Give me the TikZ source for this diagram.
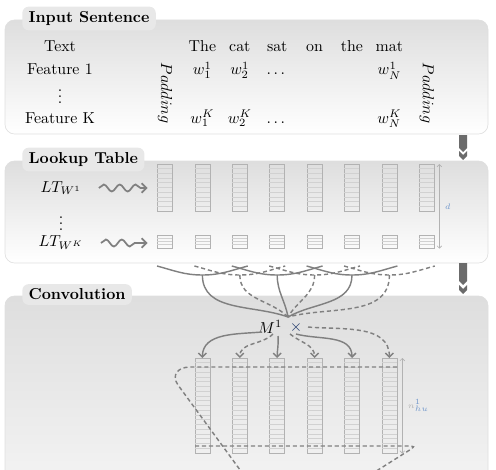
\documentclass[tikz,border=0pt]{standalone}
\usepackage{amsmath}
\usepackage{amssymb}
\usepackage{tikz}
\usetikzlibrary{arrows}
\usetikzlibrary{arrows.meta}
\usetikzlibrary{decorations.pathmorphing}
\usetikzlibrary{positioning}
\definecolor{panelgray}{rgb}{0.87, 0.87, 0.87}
\definecolor{tabgray}{rgb}{0.91, 0.91, 0.91}
\definecolor{flowgray}{rgb}{0.5, 0.5, 0.5}
\definecolor{chevgray}{rgb}{0.42, 0.42, 0.42}
\definecolor{cellgray}{rgb}{0.7, 0.7, 0.7}
\definecolor{lblue}{rgb}{0.45, 0.6, 0.8}
\definecolor{mnavy}{rgb}{0.1, 0.2, 0.4}
\tikzset{panel/.style = {draw=gray!25, rounded corners=6pt, top color=panelgray, bottom color=white},
         tab/.style = {fill=tabgray, rounded corners=4pt, anchor=west, inner xsep=4pt, inner ysep=3pt, font=\bfseries},
         word/.style = {anchor=base, inner sep=1pt},
         cellbox/.style = {draw=cellgray, minimum width=15*0.63pt, inner sep=0pt},
         cellrow/.style = {cellgray!60},
         flow/.style = {flowgray, line width=0.9pt},
         flowd/.style = {flow, dash pattern=on 2.6pt off 1.8pt},
         flowtip/.style = {-{Straight Barb[length=2.5pt,width=5pt]}},
         wavy/.style = {flowgray, line width=1.1pt, -{Straight Barb[length=3pt,width=6pt]},
                        decorate, decoration={snake, amplitude=2.2pt, segment length=10pt, post length=4pt}},
         dimline/.style = {cellgray, line width=0.4pt, {Straight Barb[length=1.5pt,width=3pt]}-{Straight Barb[length=1.5pt,width=3pt]}}}

\begin{document}
\begin{tikzpicture}[x=0.63pt, y=0.63pt]
    \useasboundingbox (0,0) rectangle (496,469);
    \clip (0,0) rectangle (496,469);

    \draw [panel] (5,335) rectangle (488,449);
    \draw [panel] (5,206) rectangle (488,308);
    \draw [panel, bottom color=gray!8] (5,-30) rectangle (488,173);
    \node [tab] (tabinput) at (22,450.5) {Input Sentence};
    \node [tab] (tablookup) at (22,309.5) {Lookup Table};
    \node [tab] (tabconv) at (22,174.5) {Convolution};

    \node [word] (rowtext) at (60,417) {Text};
    \node [word] (feat1) at (60,394) {Feature 1};
    \node [inner sep=1pt] (fdots) at (60,377) {$\vdots$};
    \node [word] (featK) at (60,346) {Feature K};
    \foreach \w [count=\i from 2] in {The, cat, sat, on, the, mat} {
      \node [word] (word\i) at ({165+37.4*(\i-1)}, 417) {\w};
    }
    \node [word] (w11) at (202.4,394) {$w_1^1$};
    \node [word] (w21) at (239.8,394) {$w_2^1$};
    \node [word] (dots1) at (277.2,394) {$\dots$};
    \node [word] (wN1) at (389.4,394) {$w_N^1$};
    \node [word] (w1K) at (202.4,346) {$w_1^K$};
    \node [word] (w2K) at (239.8,346) {$w_2^K$};
    \node [word] (dotsK) at (277.2,346) {$\dots$};
    \node [word] (wNK) at (389.4,346) {$w_N^K$};
    \node [rotate=-90, inner sep=1pt] (padl) at (165,376) {$Padding$};
    \node [rotate=-90, inner sep=1pt] (padr) at (426.8,376) {$Padding$};

    \fill [chevgray] (459,334) -- (467,334) -- (467,321) -- (463,317) -- (459,321) -- cycle;
    \fill [chevgray] (459,318) -- (463,314) -- (467,318) -- (467,313) -- (463,309) -- (459,313) -- cycle;
    \fill [chevgray] (459,206) -- (467,206) -- (467,188) -- (463,184) -- (459,188) -- cycle;
    \fill [chevgray] (459,184) -- (463,180) -- (467,184) -- (467,179) -- (463,175) -- (459,179) -- cycle;

    \foreach \i in {1,...,8} {
      \node [cellbox, minimum height=47*0.63pt, anchor=north] (top\i) at ({165+37.4*(\i-1)}, 305) {};
      \node [cellbox, minimum height=13*0.63pt, anchor=north] (bot\i) at ({165+37.4*(\i-1)}, 234) {};
      \foreach \k in {1,...,9} \draw [cellrow] (top\i.north west) ++(0,-4.7*\k) -- ++(15,0);
      \foreach \k in {1,...,3} \draw [cellrow] (bot\i.north west) ++(0,-3.25*\k) -- ++(15,0);
    }
    \node (ltw1) at (61,281) {$LT_{W^1}$};
    \node (ltdots) at (61,250) {$\vdots$};
    \node (ltwK) at (61,226) {$LT_{W^K}$};
    \draw [wavy] ([xshift=7.5pt]ltw1.east) -- ([xshift=-6pt]ltw1.east -| top1.west);
    \draw [wavy] ([xshift=7.5pt]ltwK.east) -- ([xshift=-6pt]ltwK.east -| bot1.west);
    \draw [dimline] ([xshift=3pt]top8.north east) -- ([xshift=3pt]bot8.south east)
      node [midway, right, font=\tiny, lblue] {$d$};

    \coordinate (mIn) at (288,152);
    \foreach \i in {1,...,6} {
      \coordinate (bl\i) at ({157+37.4*(\i-1)}, 203);
      \coordinate (bm\i) at ({202.4+37.4*(\i-1)}, 194);
      \coordinate (br\i) at ({247.8+37.4*(\i-1)}, 203);
    }
    \foreach \i/\s in {1/flow, 2/flowd, 3/flow, 4/flowd, 5/flow, 6/flowd} {
      \draw [\s] (bl\i) to [out=-15, in=180] (bm\i) to [out=0, in=195] (br\i);
    }
    \draw [flow] (bm1) to [out=-90, in=160] (mIn);
    \draw [flowd] (bm2) to [out=-90, in=135] (mIn);
    \draw [flow] (bm3) to [out=-90, in=100] (mIn);
    \draw [flowd] (bm4) to [out=-90, in=60] (mIn);
    \draw [flow] (bm5) to [out=-90, in=30] (mIn);
    \draw [flowd] (bm6) to [out=-90, in=15] (mIn);

    \node (m1) at (270,142) {$M^1$};
    \node [mnavy] (times) at (296,141) {$\times$};

    \foreach \i in {2,...,7} {
      \node [cellbox, minimum height=95*0.63pt, anchor=north] (out\i) at ({165+37.4*(\i-1)}, 111) {};
      \foreach \k in {1,...,19} \draw [cellrow] (out\i.north west) ++(0,-4.75*\k) -- ++(15,0);
    }
    \coordinate (mo2) at (262,137);
    \coordinate (mo3) at (273,135);
    \coordinate (mo4) at (278,133);
    \coordinate (mo5) at (290,135);
    \coordinate (mo6) at (296,135);
    \coordinate (mo7) at (308,142);
    \draw [flow, flowtip] (mo2) to [out=185, in=90] (out2.north);
    \draw [flowd, flowtip] (mo3) to [out=225, in=90] (out3.north);
    \draw [flow, flowtip] (mo4) to [out=-85, in=90] (out4.north);
    \draw [flowd, flowtip] (mo5) to [out=-40, in=90] (out5.north);
    \draw [flow, flowtip] (mo6) to [out=-15, in=90] (out6.north);
    \draw [flowd, flowtip] (mo7) to [out=-5, in=90] (out7.north);
    \draw [dimline] ([xshift=3.2pt]out7.north east) -- ([xshift=3.2pt]out7.south east)
      node [midway, right, font=\tiny, cellgray] {$n_{hu}^{\color{lblue}1}$};

    \draw [flowd] (397,102) -- (190,102) .. controls (178,102) and (171,94) .. (178,84) -- (254,-20);
    \draw [flowd, rounded corners=3pt] (195,23) -- (416,23) -- (370,-6);
\end{tikzpicture}
\end{document}
